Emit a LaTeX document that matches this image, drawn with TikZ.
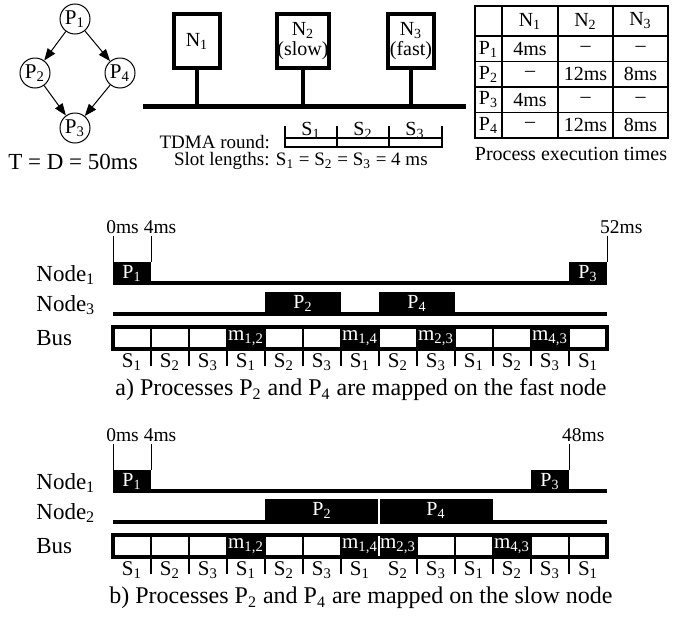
\documentclass[tikz,border=0pt]{standalone}
\usepackage{fontspec}
\setmainfont{Liberation Serif}
\usetikzlibrary{arrows.meta,positioning}
\newcommand{\idx}[2]{#1\textsubscript{#2}}
\newcommand{\fsz}[1]{\fontsize{#1}{#1}\selectfont}

\tikzset{
  proc/.style={circle,draw,line width=0.5pt,minimum size=15pt,inner sep=0pt,font=\fsz{10.5}},
  flow/.style={line width=0.5pt,-{Triangle[length=6pt,width=4.5pt]}},
  unitbox/.style={draw,line width=2pt,minimum width=23pt,minimum height=27pt,align=center,inner sep=0pt,font=\fsz{10}},
  wire/.style={line width=2pt},
  busbar/.style={line width=2.5pt},
  rowlab/.style={anchor=west,inner sep=0pt,font=\fsz{11.5}},
  caption/.style={font=\fsz{12}},
  tmark/.style={font=\fsz{9.75},inner sep=1pt},
  slotlab/.style={font=\fsz{10.5},inner sep=0pt},
  wlabel/.style={text=white,font=\fsz{10},inner sep=0pt},
  mlabel/.style={text=white,font=\fsz{10.5},inner sep=0pt},
  axis/.style={line width=2pt},
  slotbox/.style={line width=1.8pt},
  slotsep/.style={line width=1.3pt},
  small/.style={font=\fsz{9.5}},
  cell/.style={font=\fsz{10}}
}

\begin{document}
\begin{tikzpicture}[x=0.5pt,y=-0.5pt]
  \useasboundingbox (0,0) rectangle (683,616);

  % process graph
  \node[proc] (p1) at (75,19) {\idx{P}{1}};
  \node[proc] (p2) at (35,73) {\idx{P}{2}};
  \node[proc] (p4) at (120,73) {\idx{P}{4}};
  \node[proc] (p3) at (75,128) {\idx{P}{3}};
  \draw[flow] (p1) -- (p2);
  \draw[flow] (p1) -- (p4);
  \draw[flow] (p2) -- (p3);
  \draw[flow] (p4) -- (p3);
  \node[font=\fsz{11.5}] (period) at (73,162) {T = D = 50ms};

  % architecture
  \coordinate (busL) at (143,106);
  \coordinate (busR) at (466,106);
  \node[unitbox] (n1) at (197,41) {\idx{N}{1}};
  \node[unitbox] (n2) at (303,41) {\idx{N}{2}\\(slow)};
  \node[unitbox] (n3) at (411,41) {\idx{N}{3}\\(fast)};
  \draw[busbar] (busL) -- (busR);
  \foreach \n in {n1,n2,n3} \draw[wire] (\n.south) -- (\n.south |- busL);

  % TDMA round
  \node[small,anchor=east] (tdma) at (277,142) {TDMA round:};
  \draw[line width=1.2pt] (285,138) rectangle (442,147);
  \foreach \x in {285,337,389,442} \draw[line width=1.2pt] (\x,126) -- (\x,147);
  \foreach \s/\x in {1/311,2/363,3/415} \node[font=\fsz{10}] (r-s\s) at (\x,130) {\idx{S}{\s}};
  \node[small,anchor=west] (slots) at (167,161) {Slot lengths: \idx{S}{1} = \idx{S}{2} = \idx{S}{3} = 4 ms};

  % execution times
  \foreach \y in {36,61.5,87,112.5} \draw[line width=0.6pt] (475,\y) -- (668,\y);
  \foreach \x in {502,558,613} \draw[line width=0.6pt] (\x,6) -- (\x,138);
  \draw[line width=1.3pt] (475,6) rectangle (668,138);
  \foreach \n/\x in {1/530,2/585.5,3/640.5} \node[cell] (h\n) at (\x,21) {\idx{N}{\n}};
  \foreach \p/\y/\a/\b/\c in {1/49/4ms/\textendash/\textendash,
      2/74/\textendash/12ms/8ms,
      3/100/4ms/\textendash/\textendash,
      4/125/\textendash/12ms/8ms} {
    \node[cell] (r\p) at (488.5,\y) {\idx{P}{\p}};
    \node[cell] (r\p a) at (530,\y) {\a};
    \node[cell] (r\p b) at (585.5,\y) {\b};
    \node[cell] (r\p c) at (640.5,\y) {\c};
  }
  \node[cell] (tabcap) at (571,154) {Process execution times};

  % a) fast node
  \node[rowlab] (a-node1) at (36,275) {\idx{Node}{1}};
  \node[rowlab] (a-node3) at (36,305) {\idx{Node}{3}};
  \node[rowlab] (a-bus) at (36,338) {Bus};
  \begin{scope}[shift={(113,0)},x=4.75pt]
    \coordinate (a-k0) at (0,262);
    \coordinate (a-k4) at (4,262);
    \coordinate (a-k52) at (52,262);
    \node[tmark] (a-t0) at (1,227) {0ms};
    \node[tmark] (a-t4) at (4.95,227) {4ms};
    \node[tmark] (a-t52) at (53.5,227) {52ms};
    \draw[line width=0.5pt] (a-k0) -- (a-k0 |- a-t0.south);
    \draw[line width=0.5pt] (a-k4) -- (a-k4 |- a-t4.south);
    \draw[line width=0.5pt] (a-k52) -- (a-k52 |- a-t52.south);
    \fill (0,262) rectangle (4,285);
    \fill (48,262) rectangle (52,285);
    \draw[axis] (0,283) -- (52,283);
    \node[wlabel] (a-p1) at (2,273.5) {\idx{P}{1}};
    \node[wlabel] (a-p3) at (50,273.5) {\idx{P}{3}};
    \fill (16,292) rectangle (24,316);
    \fill (28,292) rectangle (36,316);
    \draw[axis] (0,314) -- (52,314);
    \node[wlabel] (a-p2) at (20,303) {\idx{P}{2}};
    \node[wlabel] (a-p4) at (32,303) {\idx{P}{4}};
    \foreach \t/\m in {12/{1,2},24/{1,4},32/{2,3},44/{4,3}} {
      \fill (\t,327) rectangle ++(4,22);
      \node[mlabel] (a-m\t) at (\t+2,338) {\idx{m}{\m}};
    }
    \draw[slotbox] (0,327) rectangle (52,349);
    \foreach \t in {4,8,...,48} \draw[slotsep] (\t,327) -- (\t,366);
    \foreach \s [count=\i from 0] in {1,2,3,1,2,3,1,2,3,1,2,3,1}
      \node[slotlab] (a-s\i) at (4*\i+2,362) {\idx{S}{\s}};
  \end{scope}
  \node[caption] (capa) at (361,390) {a) Processes \idx{P}{2} and \idx{P}{4} are mapped on the fast node};

  % b) slow node
  \node[rowlab] (b-node1) at (36,483) {\idx{Node}{1}};
  \node[rowlab] (b-node2) at (36,513) {\idx{Node}{2}};
  \node[rowlab] (b-bus) at (36,546) {Bus};
  \begin{scope}[shift={(113,208)},x=4.75pt]
    \coordinate (b-k0) at (0,262);
    \coordinate (b-k4) at (4,262);
    \coordinate (b-k48) at (48,262);
    \node[tmark] (b-t0) at (1,227) {0ms};
    \node[tmark] (b-t4) at (4.95,227) {4ms};
    \node[tmark] (b-t48) at (49.5,227) {48ms};
    \draw[line width=0.5pt] (b-k0) -- (b-k0 |- b-t0.south);
    \draw[line width=0.5pt] (b-k4) -- (b-k4 |- b-t4.south);
    \draw[line width=0.5pt] (b-k48) -- (b-k48 |- b-t48.south);
    \fill (0,262) rectangle (4,285);
    \fill (44,262) rectangle (48,285);
    \draw[axis] (0,283) -- (52,283);
    \node[wlabel] (b-p1) at (2,273.5) {\idx{P}{1}};
    \node[wlabel] (b-p3) at (46,273.5) {\idx{P}{3}};
    \fill (16,291) rectangle (40,316);
    \draw[axis] (0,314) -- (52,314);
    \node[wlabel] (b-p2) at (22,302) {\idx{P}{2}};
    \node[wlabel] (b-p4) at (34,302) {\idx{P}{4}};
    \foreach \t/\m in {12/{1,2},24/{1,4},28/{2,3},40/{4,3}} {
      \fill (\t,327) rectangle ++(4,22);
      \node[mlabel] (b-m\t) at (\t+2,338) {\idx{m}{\m}};
    }
    \draw[slotbox] (0,327) rectangle (52,349);
    \foreach \t in {4,8,12,16,20,24,32,36,40,44,48} \draw[slotsep] (\t,327) -- (\t,366);
    \draw[white,line width=0.9pt] (28,291) -- (28,316);
    \draw[white,line width=0.9pt] (28,328) -- (28,348);
    \foreach \s [count=\i from 0] in {1,2,3,1,2,3,1,2,3,1,2,3,1}
      \node[slotlab] (b-s\i) at (4*\i+2,362) {\idx{S}{\s}};
  \end{scope}
  \node[caption] (capb) at (361,598) {b) Processes \idx{P}{2} and \idx{P}{4} are mapped on the slow node};
\end{tikzpicture}
\end{document}
